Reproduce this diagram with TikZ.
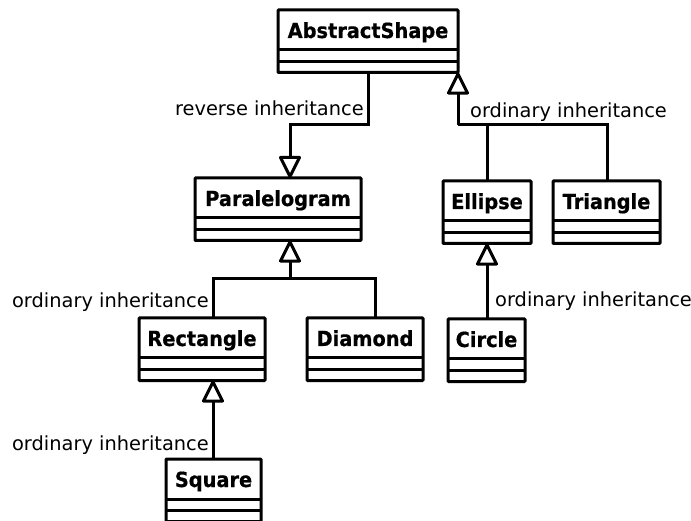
\documentclass[tikz,border=0pt]{standalone}
\usepackage{fontspec}
\setmainfont{DejaVu Sans}
\newfontfamily\titlefont[FakeStretch=0.93, FakeBold=0.6]{DejaVu Sans Bold}
\usetikzlibrary{arrows.meta}

% UML class: name, left, top, width, title
\newcommand\umlclass[5]{%
  \node[classbox, minimum width=#4pt, anchor=north west] (#1) at (#2,#3) {};
  \node[classtitle] at ([yshift=-28pt]#1.north) {#5};
  \draw[classline] ([yshift=-40pt]#1.north west) -- ([yshift=-40pt]#1.north east);
  \draw[classline] ([yshift=-51.5pt]#1.north west) -- ([yshift=-51.5pt]#1.north east);
}

\tikzset{
  classline/.style={line width=3pt},
  classbox/.style={draw, line width=3pt, fill=white, minimum height=62.5pt,
    inner sep=0pt, outer sep=0pt, rounded corners=0.8pt},
  classtitle/.style={anchor=base, inner sep=0pt,
    font=\fontsize{20.8}{24}\selectfont\titlefont},
  conn/.style={line width=3pt},
  inh/.style={conn, -{Triangle[open, round, length=24pt, width=23pt]}},
  lbl/.style={inner sep=0pt, font=\fontsize{19.4}{23}\selectfont},
}

\begin{document}
\begin{tikzpicture}[x=1pt, y=-1pt]
  \useasboundingbox (0,0) rectangle (691,521);
  \fill[white] (0,0) rectangle (691,521);

  % classes
  \umlclass{abs}{278}{10}{180}{AbstractShape}
  \umlclass{par}{195}{178}{166}{Paralelogram}
  \umlclass{ell}{443}{181}{88}{Ellipse}
  \umlclass{tri}{553}{181}{107}{Triangle}
  \umlclass{rect}{139}{318}{126}{Rectangle}
  \umlclass{dia}{307}{318}{116}{Diamond}
  \umlclass{circ}{448}{319}{77}{Circle}
  \umlclass{sq}{166}{459}{95}{Square}

  % attachment columns and junctions
  \coordinate (xpar) at (290,0);
  \coordinate (xrect) at (213,0);
  \coordinate (xdia) at (375,0);
  \coordinate (xtri) at (607,0);
  \coordinate (jabs) at (458,125);
  \coordinate (jrev) at (290,125);
  \coordinate (jpar) at (290,279);

  % reverse inheritance: AbstractShape -> Paralelogram
  \draw[inh] (abs.south) |- (jrev) -- (par.north -| xpar);

  % Ellipse, Triangle -> AbstractShape
  \draw[conn] (ell.north) |- (jabs);
  \draw[conn] (tri.north -| xtri) |- (jabs);
  \draw[inh] (jabs) -- (abs.south east);

  % Rectangle, Diamond -> Paralelogram
  \draw[conn] (rect.north -| xrect) |- (jpar);
  \draw[conn] (dia.north -| xdia) |- (jpar);
  \draw[inh] (jpar) -- (par.south -| xpar);

  % Circle -> Ellipse
  \draw[inh] (circ.north -| ell.south) -- (ell.south);

  % Square -> Rectangle
  \draw[inh] (sq.north -| xrect) -- (rect.south -| xrect);

  % labels
  \node[lbl, anchor=base east] (lrev) at (364,116) {reverse inheritance};
  \node[lbl, anchor=base west] (labs) at (470,118) {ordinary inheritance};
  \node[lbl, anchor=base east] (lpar) at (209,308) {ordinary inheritance};
  \node[lbl, anchor=base west] (lell) at (495,307) {ordinary inheritance};
  \node[lbl, anchor=base east] (lrect) at (209,450) {ordinary inheritance};
\end{tikzpicture}
\end{document}
